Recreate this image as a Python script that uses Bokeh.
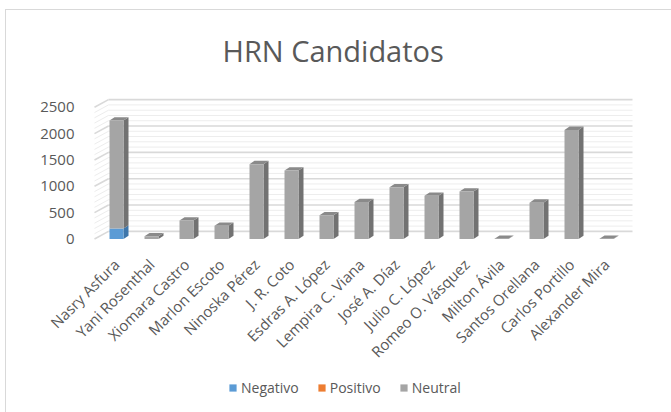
import math
from bokeh.plotting import figure
from bokeh.layouts import column
from bokeh.models import Range1d, FixedTicker, Legend, LegendItem
from bokeh.embed import file_html
from bokeh.resources import INLINE

# ---------------- data ----------------
candidates = ["Nasry Asfura", "Yani Rosenthal", "Xiomara Castro", "Marlon Escoto",
              "Ninoska Pérez", "J. R. Coto", "Esdras A. López", "Lempira C. Viana",
              "José A. Díaz", "Julio C. López", "Romeo O. Vásquez", "Milton Ávila",
              "Santos Orellana", "Carlos Portillo", "Alexander Mira"]
negativo = [200, 0, 0, 0, 0, 0, 0, 0, 0, 0, 0, 0, 0, 0, 0]
positivo = [0, 0, 0, 0, 0, 0, 0, 0, 0, 0, 0, 0, 0, 0, 0]
neutral = [2050, 50, 350, 250, 1420, 1300, 450, 700, 980, 820, 900, 5, 690, 2070, 3]
y_ticks = [0, 500, 1000, 1500, 2000, 2500]
grid_values = list(range(0, 2501, 100))
series_names = ["Negativo", "Positivo", "Neutral"]

# ---------------- styling / geometry (pixels) ----------------
W = 671
H_MAIN, H_LEG = 372, 40
FRAME_L, FRAME_R, FRAME_T, FRAME_B = 90, 636, 92, 241
PX_PER_CAT = 35.0
FIRST_CAT_PX = 116.0
PX_PER_UNIT = 0.0527
ZERO_PX = 238.5

front_col = {"Negativo": "#5B9BD5", "Positivo": "#ED7D31", "Neutral": "#A5A5A5"}
side_col = {"Negativo": "#3E76AA", "Positivo": "#B85E21", "Neutral": "#727272"}
top_col = {"Negativo": "#4C87BE", "Positivo": "#D06A26", "Neutral": "#8A8A8A"}
TEXT = "#595959"
FONT = "Open Sans"
BORDER = "#D9D9D9"

def dxu(px):
    return px / PX_PER_CAT

def dyu(px):
    return px / PX_PER_UNIT

x0 = -(FIRST_CAT_PX - FRAME_L) / PX_PER_CAT
x1 = (FRAME_R - FIRST_CAT_PX) / PX_PER_CAT
y0 = -(FRAME_B - ZERO_PX) / PX_PER_UNIT
y1 = (ZERO_PX - FRAME_T) / PX_PER_UNIT

p = figure(width=W, height=H_MAIN, output_backend="svg", toolbar_location=None,
           x_range=Range1d(x0, x1), y_range=Range1d(y0, y1),
           min_border_left=FRAME_L, min_border_right=W - FRAME_R,
           min_border_top=FRAME_T, min_border_bottom=H_MAIN - FRAME_B,
           background_fill_color="white", border_fill_color="white")
p.outline_line_color = None
p.xgrid.visible = False
p.ygrid.visible = False
p.stylesheets = [
    ":host { position: relative; }"
    ":host::after { content: ''; position: absolute; left: 5px; top: 9px; "
    "right: -20px; bottom: 0px; border-top: 1px solid " + BORDER + "; "
    "border-left: 1px solid " + BORDER + "; pointer-events: none; z-index: 5; }"
]

# ---------------- walls (pseudo 3D) ----------------
wall_front_x = dxu(94 - FIRST_CAT_PX)
wall_dx = dxu(14)
wall_dy = dyu(7.6)
wall_right_x = dxu(632 - FIRST_CAT_PX)
for major in (False, True):
    vals = [v for v in grid_values if (v % 500 == 0) == major]
    col = "#D9D9D9" if major else "#EDEDED"
    lw = 1.6 if major else 1.0
    p.segment(x0=[wall_front_x] * len(vals), y0=vals,
              x1=[wall_front_x + wall_dx] * len(vals), y1=[v + wall_dy for v in vals],
              line_color=col, line_width=lw)
    p.segment(x0=[wall_front_x + wall_dx] * len(vals), y0=[v + wall_dy for v in vals],
              x1=[wall_right_x] * len(vals), y1=[v + wall_dy for v in vals],
              line_color=col, line_width=lw)

# ---------------- bars ----------------
hw = dxu(7)
bdx = dxu(5)
bdy = dyu(3.3)
series_vals = {"Negativo": negativo, "Positivo": positivo, "Neutral": neutral}

side_xs, side_ys, side_c = [], [], []
top_xs, top_ys, top_c = [], [], []
fronts = {s: dict(left=[], right=[], bottom=[], top=[]) for s in series_names}
for i in range(len(candidates)):
    base = 0.0
    last = None
    for s in series_names:
        v = series_vals[s][i]
        b, t = base, base + v
        fronts[s]["left"].append(i - hw)
        fronts[s]["right"].append(i + hw)
        fronts[s]["bottom"].append(b)
        fronts[s]["top"].append(t)
        if v > 0:
            side_xs.append([i + hw, i + hw + bdx, i + hw + bdx, i + hw])
            side_ys.append([b, b + bdy, t + bdy, t])
            side_c.append(side_col[s])
            last = s
        base = t
    if last is None:
        last = "Neutral"
    top_xs.append([i - hw, i - hw + bdx, i + hw + bdx, i + hw])
    top_ys.append([base, base + bdy, base + bdy, base])
    top_c.append(top_col[last])

p.patches(side_xs, side_ys, fill_color=side_c, line_color=None)
p.patches(top_xs, top_ys, fill_color=top_c, line_color=None)
for s in series_names:
    p.quad(left=fronts[s]["left"], right=fronts[s]["right"],
           bottom=fronts[s]["bottom"], top=fronts[s]["top"],
           fill_color=front_col[s], line_color=None)

# ---------------- axes ----------------
xa = p.xaxis[0]
xa.ticker = FixedTicker(ticks=list(range(len(candidates))))
xa.major_label_overrides = {i: n for i, n in enumerate(candidates)}
xa.major_label_orientation = math.pi / 4
xa.axis_line_color = None
xa.major_tick_line_color = None
xa.minor_tick_line_color = None
xa.major_label_text_font = FONT
xa.major_label_text_font_size = "15px"
xa.major_label_text_color = TEXT
xa.major_label_standoff = 14

ya = p.yaxis[0]
ya.ticker = FixedTicker(ticks=y_ticks)
ya.axis_line_color = None
ya.major_tick_line_color = None
ya.minor_tick_line_color = None
ya.major_label_text_font = FONT
ya.major_label_text_font_size = "15px"
ya.major_label_text_color = TEXT
ya.major_label_standoff = 10

# ---------------- title ----------------
p.title.text = "HRN Candidatos"
p.title.align = "left"
p.title.offset = 132
p.title.text_font = FONT
p.title.text_font_size = "29px"
p.title.text_font_style = "normal"
p.title.text_color = TEXT
p.title.standoff = 46

# ---------------- legend (separate strip below the chart) ----------------
# The strip shows the same series renderers, but its y range lies below all
# bars, so only the legend is visible there.
pl = figure(width=W, height=H_LEG, output_backend="svg", toolbar_location=None,
            x_range=Range1d(x0, x1), y_range=Range1d(-20, -10),
            x_axis_type=None, y_axis_type=None, min_border=0,
            background_fill_color="white", border_fill_color="white")
pl.outline_line_color = None
pl.xgrid.visible = False
pl.ygrid.visible = False
pl.stylesheets = [
    ":host { position: relative; }"
    ":host::after { content: ''; position: absolute; left: 5px; top: 0px; "
    "width: 0px; bottom: 0px; border-left: 1px solid " + BORDER + "; "
    "pointer-events: none; z-index: 5; }"
]
legend_items = []
for s in series_names:
    r = pl.quad(left=fronts[s]["left"], right=fronts[s]["right"],
                bottom=fronts[s]["bottom"], top=fronts[s]["top"],
                fill_color=front_col[s], line_color=None)
    legend_items.append(LegendItem(label=s, renderers=[r]))
legend = Legend(items=legend_items, orientation="horizontal",
                location=(138, 15), glyph_width=9, glyph_height=9,
                label_standoff=4, spacing=18, padding=0, margin=0,
                label_text_font=FONT, label_text_font_size="14px",
                label_text_color=TEXT, border_line_color=None,
                background_fill_alpha=0)
pl.add_layout(legend, "center")

layout = column(p, pl, spacing=0)
open("out.html", "w").write(file_html(layout, INLINE))
